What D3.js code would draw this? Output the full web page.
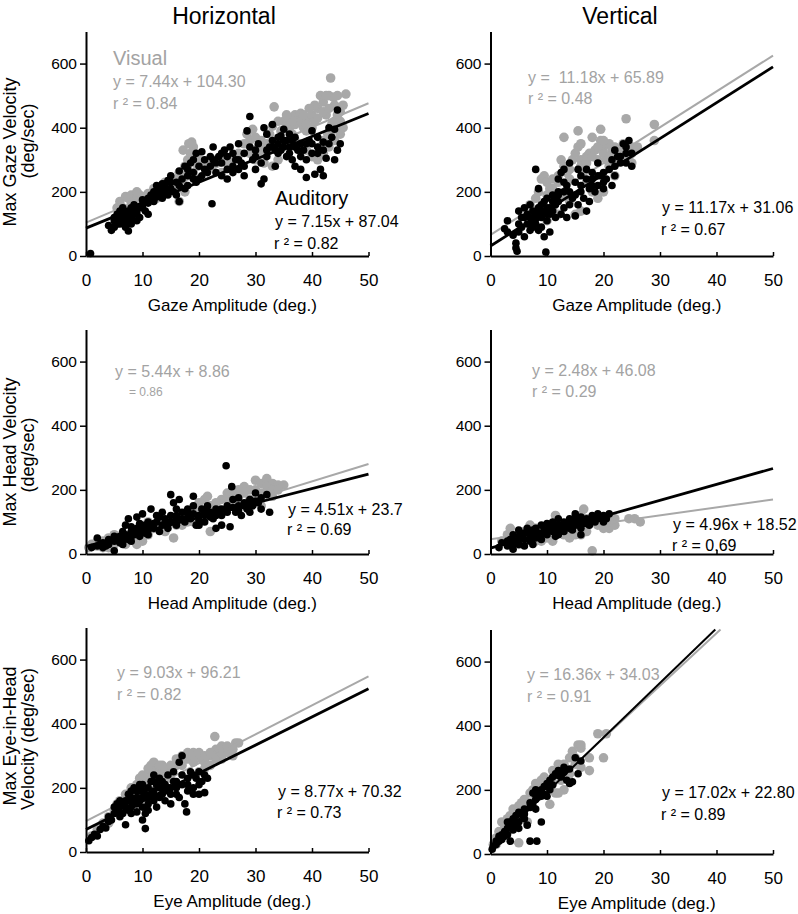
<!DOCTYPE html>
<html><head><meta charset="utf-8">
<script src="https://cdn.jsdelivr.net/npm/d3@7"></script>
<style>
body{margin:0;background:#fff}
svg{display:block}
text{font-family:"Liberation Sans",Arial,Helvetica,sans-serif;white-space:pre}
</style>
</head><body>
<svg id="chart" width="798" height="914"></svg>
<script>
// ---------------- DATA ----------------
const columnTitles = ["Horizontal", "Vertical"];
const xTickValues = [0, 10, 20, 30, 40, 50];
const yTickValues = [0, 200, 400, 600];
const xAxisLabels = ["Gaze Amplitude (deg.)", "Head Amplitude (deg.)", "Eye Amplitude (deg.)"];
const yAxisLabels = [["Max Gaze Velocity", "(deg/sec)"], ["Max Head Velocity", "(deg/sec)"], ["Max Eye-in-Head", "Velocity (deg/sec)"]];

// regression fits [slope, intercept] per panel: H-gaze, V-gaze, H-head, V-head, H-eye, V-eye
const visualFits = [[7.44, 104.30], [11.18, 65.89], [5.44, 8.86], [2.48, 46.08], [9.03, 96.21], [16.36, 34.03]];
const auditoryFits = [[7.15, 87.04], [11.17, 31.06], [4.51, 23.7], [4.96, 18.52], [8.77, 70.32], [17.02, 22.80]];
const visualEquations = ["y = 7.44x + 104.30", "y =  11.18x + 65.89", "y = 5.44x + 8.86", "y = 2.48x + 46.08", "y = 9.03x + 96.21", "y = 16.36x + 34.03"];
const visualR2 = ["r ² = 0.84", "r ² = 0.48", "= 0.86", "r ² = 0.29", "r ² = 0.82", "r ² = 0.91"];
const auditoryEquations = ["y = 7.15x + 87.04", "y = 11.17x + 31.06", "y = 4.51x + 23.7", "y = 4.96x + 18.52", "y = 8.77x + 70.32", "y = 17.02x + 22.80"];
const auditoryR2 = ["r ² = 0.82", "r ² = 0.67", "r ² = 0.69", "r ² = 0.69", "r ² = 0.73", "r ² = 0.89"];

// Horizontal gaze
const hGazeVisual = [[6,170],[7,185],[7.5,180],[8,190],[8.5,175],[9,185],[9.5,190],[10,180],[6.5,150],[8,160],
[11,195],[12,210],[13,200],[14,230],[15,220],[12.5,180],[14.5,200],
[16,240],[16.5,260],[17,250],[17.5,280],[18,300],[18.5,320],[18.7,355],[19,340],[19.5,310],[18,270],[17,230],[16.5,170],[17.5,200],[19,260],
[20,300],[21,290],[22,280],[23,300],[24,310],[25,290],[26,300],[27,320],[24,260],
[28.5,380],[29,360],[29.5,395],[30,370],[30.5,340],[31,320],[31.5,290],[32,330],[32.5,380],[33,405],[33.3,465],[33.5,350],[33,280],[34,300],
[35,420],[35.5,400],[36,430],[36.5,380],[37,440],[37.5,420],[38,445],[38.5,400],[39,390],[39.5,430],[40,440],[40.5,420],[41,460],[41.5,500],[42,480],[42.5,440],[43,500],[43.3,555],[43.8,495],[44,470],[44.5,440],[45,420],[45.5,400],[46,505],[45,380],[44,360],[43,340],[42,320],[41,300],[40,310],[39,330],[38,350],[37,360],[36,340],[44.8,460],[43.5,410],[42.8,380],
[5.5,150],[9,200],[10.5,185],[16,210],[17.2,330],[18.2,350],[19.8,280],[21.5,270],[28,350],[29,320],[30,300],[31,360],[34.5,390],[36,400],[37,410],[38,420],[39,410],[40,400],[41,430],[42,450],[43,460],[44,420],[45,450],[45.5,470],[44.5,500],[42.5,500],[40.5,470],[39.5,460],[38.5,440],[36.5,420],[35.5,440],[43.5,390],[42,360],[41.5,340],[34,420],[32,350]];
const hGazeAuditory = [[0.8,8],
[4,95],[4.5,80],[5,90],[5,110],[5.5,100],[5.5,130],[6,120],[6,140],[6,100],[6.5,110],[6.5,150],[7,120],[7,90],[7,135],[7.5,140],[7.5,110],[7.5,78],[8,125],[8,150],[8,100],[8.5,130],[8.5,160],[9,140],[9,110],[9.5,155],[9.5,120],[10,150],[10,175],[10.5,140],[11,130],[11,165],
[11.5,190],[12,200],[12,170],[12.5,220],[12.5,185],[13,210],[13,195],[13.5,225],[13.5,180],[14,215],[14,200],[14.5,235],[14.5,190],[15,210],[15,250],[15.5,200],[16,230],[16,190],[16.5,265],[16.5,170],[17,240],[17.5,210],[17.5,280],[18,250],[18,220],[18.5,290],[19,260],[19,240],[19.5,320],[19.5,230],[20,280],[20.5,325],[20.5,250],[21,300],[21.5,260],[22,280],[22.3,163],[22.5,340],[22.5,300],[23,260],[23.5,310],[24,290],[24,250],[24.5,330],[25,310],[25,240],[25.5,340],[26,280],[26,260],[26.5,300],[27,350],[27,270],[27.5,290],[28,320],[28,250],[28.5,390],[29,435],[29.5,300],[30,330],[30,270],[30.5,350],[31,225],[31,290],[31.5,400],[31.5,240],[32,380],[32,310],[32.5,340],[33,410],[33,360],[33.5,280],[33.5,330],[34,350],[34,320],[34.5,375],[35,395],[35,340],[35.5,310],[36,380],[36,340],[36.5,300],[37,370],[37,280],[37.5,330],[38,270],[38,350],[38.5,330],[39,245],[39,300],[40,320],[40,390],[40.5,255],[41,370],[41.5,270],[42,250],[42,355],[42.5,305],[43,400],[43.5,370],[44,395],[44.5,330],[44.5,455],[45,350],[44,300],[41,340],[39.5,360],[36.5,360],[35.5,360],[34.5,330],
[5,120],[6,110],[6.5,130],[7,105],[8,115],[9,130],[10,160],[11,180],[12.5,200],[13.5,205],[14,225],[15,230],[16.5,220],[18,270],[19,300],[20,240],[21,270],[22,310],[23,290],[24,320],[25,270],[26,320],[27,300],[28,280],[29,340],[30,310],[32,330],[33,340],[34,370],[35,360],[36,320],[37,340],[38,310],[39,350],[40,350],[41,320],[43,350],[42,330]];

// Vertical gaze
const vGazeVisual = [[7,160],[8,180],[8.5,200],[9,240],[9.5,250],[10,230],[10.5,210],[11,240],[11.5,190],[12,250],[12.5,300],[13,370],[13,280],[13.5,260],[14,240],[14.5,300],[15,320],[15.5,390],[15.5,340],[16,350],[16,300],[16.5,270],[17,310],[17.5,320],[18,370],[18.5,330],[19,300],[19.5,395],[19.5,360],[20,340],[20,320],[20.5,300],[21,350],[21,280],[21.5,330],[22,320],[22.5,300],[23,310],[23.5,350],[24,428],[24.5,310],[25,340],[25,290],[25.5,330],[26,340],[29,410],[29,360],[19,180],[18,200],[17,230],[16,140],[15,130],[14,170],[12,130],[11,150],[10,110],[13,190],[9,130],[22,250],[20,200],
[12,230],[14,270],[16,280],[17,290],[18,310],[19,340],[20,360],[21,310],[22,340],[23,330],[24,300],[25,320],[10,190],[11,210]];
const vGazeAuditory = [[2.5,85],[3,110],[3,75],[4,65],[4.5,40],[4.5,25],[4.7,15],[5,140],[5,100],[5.5,120],[5.5,90],[6,60],[6,150],[6.5,130],[6.5,100],[7,160],[7,120],[7,80],[7.5,140],[7.5,110],[8,270],[8,130],[8,100],[8.5,210],[8.5,150],[8.5,80],[9,120],[9,90],[9,140],[9.5,170],[9.5,60],[9.8,12],[10,180],[10,130],[10,110],[10.5,150],[10.5,75],[11,190],[11,140],[11.5,160],[11.5,120],[12,200],[12,240],[12,170],[12.5,260],[12.5,130],[13,270],[13,200],[13,150],[13.5,220],[13.5,120],[14,290],[14,160],[14.5,180],[15,230],[15,125],[15.5,270],[15.5,160],[16,200],[16,250],[16.5,180],[17,270],[17,140],[17.5,210],[17.5,170],[18,240],[18,260],[18.5,200],[19,290],[19,220],[19.5,250],[20,260],[20,210],[20.5,240],[21,270],[21.5,300],[21.5,220],[22,330],[22,250],[22.5,310],[23,310],[23.5,350],[24,340],[24,290],[24.5,360],[25,320],[25,280],
[6,120],[7,100],[8,115],[9,160],[10,150],[11,170],[12,190],[13,230],[14,200],[15,190],[16,220],[17,240],[18,220],[19,250],[20,230],[22,280],[23,290],[24,320],[5,75],[7.5,90],[8.5,125],[9.5,135],[10.5,130],[11.5,180]];

// Horizontal head
const hHeadVisual = [[0.5,20],[1,30],[2,25],[3,40],[4,50],[5,60],[5,30],[6,40],[7,55],[8,60],[9,50],[10,70],[11,60],[12,80],[13,90],[14,70],[15,100],[15.5,50],[16,90],[17,110],[18,120],[19,100],[20,160],[21,170],[21.5,180],[22,70],[22.5,140],[23,150],[24,170],[25,190],[26,200],[27,180],[28,210],[29,200],[30,230],[31,220],[32,235],[33,220],[34,215],[35,215],[29,170],[30,160],[31,150],[26,160],[24,130],[19,140],[17,90],[13,110],[11,100],[3,20],[7,30],[9,30],
[20,130],[22,150],[25,170],[27,200],[28,190],[30,200],[32,210],[33,200],[31,190],[33,180],[34,200],[26,180],[23,160],[18,100],[14,90],[10,40],[2,40],[4,20]];
const hHeadAuditory = [[1,20],[2,50],[2.5,30],[3,20],[3.5,25],[4,30],[5,10],[5,40],[6,35],[6,55],[6.5,30],[7,60],[7,90],[7.5,45],[7.5,110],[8,70],[8,40],[8.5,60],[9,80],[9,115],[9.5,55],[10,125],[10,70],[10.5,90],[11,60],[11,100],[11.5,140],[12,80],[12.5,100],[13,70],[13.5,90],[14,110],[14.5,80],[15,120],[15,185],[15.5,160],[16,140],[16,90],[16.5,170],[17,110],[17.5,100],[18,130],[18.5,110],[19,150],[19,180],[19.5,90],[20,120],[20.5,140],[21,100],[21.5,150],[22,130],[22.5,110],[23,140],[23,80],[24,120],[24,90],[24.8,275],[25,150],[25.5,85],[25.8,210],[26,170],[26.5,130],[27,150],[27.5,120],[28,160],[28.5,140],[29,170],[29.5,150],[30,190],[30.5,160],[31,140],[32,185],[32.5,130],[12.5,120],[13.5,130],[21,120],[18,140],[27,175],
[2,25],[3,35],[4,45],[5,55],[6,45],[6.5,70],[7,50],[8,55],[8,85],[9,65],[9.5,95],[10,80],[10.5,65],[11,85],[12,95],[13,115],[14,95],[15,100],[16,110],[17,130],[18,115],[19,125],[20,105],[21,135],[22,115],[23,120],[24,140],[25,130],[26,145],[27,135],[28,150],[29,155],[30,165],[31,175],[29,130],[20,90],[16,120],[11,75]];

// Vertical head
const vHeadVisual = [[2,40],[3,60],[3.5,80],[5,60],[6,70],[7,90],[8,80],[9,70],[10,60],[11,40],[11.5,120],[12,100],[13,60],[14,70],[15,90],[16,60],[16.5,140],[17,110],[18,100],[18,10],[19,90],[20,100],[21,110],[21,80],[22,90],[24.5,110],[25.5,110],[26.5,100],[10,50],[14,50],[5,30],[9,40],
[12,80],[15,60],[17,70],[20,80],[21,100],[22,110],[16,120],[8,40]];
const vHeadAuditory = [[1.5,20],[2,35],[3,25],[3.5,45],[4,15],[4,60],[4.5,40],[5,75],[5,30],[5.5,50],[6,65],[6,25],[6.5,80],[7,40],[7,60],[7.5,30],[7.5,75],[8,50],[8,80],[8.5,65],[9,90],[9,45],[9.5,75],[10,60],[10,95],[10.5,85],[11,70],[11,100],[11.5,55],[12,90],[12,110],[12.5,80],[13,100],[13,70],[13.5,95],[14,80],[14,110],[14.5,105],[15,90],[15,125],[15.5,100],[16,80],[16,115],[16.5,95],[17,110],[17.5,90],[18,120],[18.5,100],[19,125],[19.5,115],[20,120],[20.5,110],[21,125],[14.5,75],[16,60],[12,60],
[5,55],[6,45],[7,70],[8,65],[9,60],[10,75],[11,85],[12,75],[13,85],[14,95],[15,110],[16,100],[17,95],[18,105],[19,110],[20,100],[3,40],[4,30]];

// Horizontal eye
const hEyeVisual = [[1,50],[2,70],[3,90],[4,110],[5,130],[5.5,150],[6,160],[7,180],[8,190],[9,210],[9.5,230],[10,220],[11,240],[11.5,270],[12,260],[13,250],[13.5,270],[14,230],[15,250],[16,270],[17,300],[18,290],[19,310],[20,300],[20.5,290],[21,280],[22,300],[22.8,360],[23,320],[24,330],[25,310],[25.5,320],[26,300],[26.5,340],[27,340],[24,290],[22,270],[21,260],[19,280],[17,270],[15,230],[13,220],[11,200],[9,180],[7,150],[6,130],[4,90],[20,250],[23,290],[18,310],
[10,240],[11,260],[12,280],[13,270],[14,260],[15,270],[16,290],[17,280],[18,300],[19,300],[20,310],[21,300],[22,310],[23,300],[24,310],[25,330],[26,320],[8,200],[7,170],[6,150]];
const hEyeAuditory = [[0.5,35],[1,45],[1.5,55],[2,50],[2.5,70],[3,80],[3.5,75],[4,95],[4,110],[4.5,100],[5,120],[5.5,130],[5.5,150],[6,110],[6,140],[6.5,150],[7,85],[7,160],[7.5,130],[7.5,180],[8,140],[8,170],[8.5,200],[9,190],[9,125],[9.5,160],[9.5,210],[10,170],[10,100],[10.5,73],[10.5,120],[11,200],[11,150],[11.5,180],[12,220],[12,170],[12.5,140],[13,200],[13,230],[13.5,180],[14,210],[14,160],[14.5,240],[15,150],[15,200],[15.5,250],[16,220],[16.5,280],[16.5,170],[17,300],[17,210],[17.5,150],[17.8,125],[18,190],[18,230],[18.5,250],[19,200],[19,180],[19.5,230],[20,250],[20,180],[20.5,220],[21,240],[21,185],[21.5,230],[12,240],[10,190],[8,160],[14.5,200],[16,180],
[5,140],[6,160],[6.5,120],[7,140],[7.5,160],[8,190],[8.5,150],[9,170],[9.5,190],[10,210],[10.5,180],[11,170],[11.5,220],[12,190],[12.5,210],[13,170],[13.5,220],[14,190],[15,180],[15.5,220],[16,200],[17,240],[18,210],[19,240],[20,210],[11,130],[12,160],[8,120],[9,150],[10,140]];

// Vertical eye
const vEyeVisual = [[0.5,30],[1,50],[1.5,70],[2,100],[2.5,90],[3,110],[3.5,120],[4,140],[4.5,120],[5,150],[5,35],[5.5,160],[6,170],[6.5,100],[7,190],[7.5,200],[8,220],[8.5,180],[9,210],[9.5,240],[10,230],[10.5,155],[11,260],[11.5,190],[12,280],[12.5,270],[13,200],[13.5,240],[14,300],[14.5,320],[15,300],[15.5,340],[16,330],[16,270],[17.5,260],[17.5,300],[19,375],[20,300],[20.5,375],[12,190],
[3,70],[4,100],[6,140],[8,180],[9,230],[10,200],[11,220],[12.5,230],[13,280],[14,250],[15,280],[16,340],[2,60],[1,30],[7,160]];
const vEyeAuditory = [[0.3,15],[0.5,25],[1,40],[1,30],[1.5,55],[2,60],[2,45],[2.5,70],[3,80],[3,60],[3.5,100],[3.5,40],[4,90],[4,110],[4.5,120],[5,130],[5,80],[5.5,125],[6,140],[6,110],[6.5,90],[7,160],[7,40],[7.5,190],[7.5,150],[8,200],[8,170],[8.2,40],[8.5,190],[9,180],[9,100],[9.5,210],[10,220],[10.5,200],[11,240],[11.5,250],[12,260],[12.5,240],[13,270],[13.5,230],[14,220],[14.5,225],[15,300],[15.5,250],[16,290],[8,140],[10,180],
[1.5,40],[2.5,55],[4,75],[5,100],[6,125],[7,145],[8,185],[9,200],[9.5,185],[10.5,230],[11,215],[12,245],[13,255],[14,265],[4.5,95],[3,100]];

const visualSeries = [hGazeVisual, vGazeVisual, hHeadVisual, vHeadVisual, hEyeVisual, vEyeVisual];
const auditorySeries = [hGazeAuditory, vGazeAuditory, hHeadAuditory, vHeadAuditory, hEyeAuditory, vEyeAuditory];

// ---------------- LAYOUT ----------------
const GREY = "#a8a8a8";
const GREY_TEXT = "#a3a3a3";
const colX = [86, 490.5];
const rowY = [256, 554, 852];
const panelW = 282.5;
const panelH = 224.5; // 0..700
// annotation positions per panel: [visX, visEqY, visR2Y, audX, audEqY, audR2Y]
const annot = [
  [113, 87, 109, 275, 227, 249],
  [528, 83, 104, 662, 213, 235],
  [115, 377, 396, 288, 515, 535],
  [532, 376, 397, 673, 530, 551],
  [117, 678, 700, 278, 797, 818],
  [527, 680, 702, 662, 798, 820]
];
const yLabelCenters = [[152, 141], [452, 455], [736, 739]];

const svg = d3.select("#chart");

// column titles
columnTitles.forEach((t, i) => {
  svg.append("text").attr("x", i === 0 ? 224 : 620).attr("y", 24)
    .attr("text-anchor", "middle").attr("font-size", 23).attr("fill", "#000").text(t);
});

// y labels
yAxisLabels.forEach((lines, r) => {
  svg.append("text").attr("transform", `translate(15.5,${yLabelCenters[r][0]}) rotate(-90)`)
    .attr("text-anchor", "middle").attr("font-size", 18).text(lines[0]);
  svg.append("text").attr("transform", `translate(34,${yLabelCenters[r][1]}) rotate(-90)`)
    .attr("text-anchor", "middle").attr("font-size", 18).text(lines[1]);
});

for (let p = 0; p < 6; p++) {
  const r = Math.floor(p / 2), c = p % 2;
  const x0 = colX[c];
  const y0 = (p === 5) ? rowY[r] + 2 : rowY[r];
  const x = d3.scaleLinear().domain([0, 50]).range([x0, x0 + panelW]);
  const y = d3.scaleLinear().domain([0, 700]).range([y0, y0 - panelH]);
  const g = svg.append("g");

  // visual points
  g.append("g").selectAll("circle").data(visualSeries[p]).join("circle")
    .attr("cx", d => x(d[0])).attr("cy", d => y(d[1])).attr("r", 4.8).attr("fill", GREY);

  const fitLine = (fit) => {
    const [m, b] = fit;
    const xe = Math.min(50, (700 - b) / m);
    return [[0, b], [xe, m * xe + b]];
  };
  const line = d3.line().x(d => x(d[0])).y(d => y(d[1]));

  g.append("path").attr("d", line(fitLine(visualFits[p]))).attr("stroke", GREY)
    .attr("stroke-width", 2).attr("fill", "none");

  // auditory points
  g.append("g").selectAll("circle").data(auditorySeries[p]).join("circle")
    .attr("cx", d => x(d[0])).attr("cy", d => y(d[1])).attr("r", 3.8).attr("fill", "#000");

  g.append("path").attr("d", line(fitLine(auditoryFits[p]))).attr("stroke", "#000")
    .attr("stroke-width", p === 5 ? 2 : 2.8).attr("fill", "none");

  // axes
  const xAxis = d3.axisBottom(x).tickValues(xTickValues).tickSizeInner(-4).tickSizeOuter(0).tickPadding(18);
  const gx = g.append("g").attr("transform", `translate(0,${y0})`).call(xAxis);
  gx.select(".domain").attr("stroke-width", 2);
  gx.selectAll(".tick line").attr("stroke-width", 1.5);
  gx.selectAll("text").attr("font-size", 17).attr("fill", "#000");

  const yAxis = d3.axisLeft(y).tickValues(yTickValues).tickSizeInner(6).tickSizeOuter(0).tickPadding(3);
  const gy = g.append("g").attr("transform", `translate(${x0},0)`).call(yAxis);
  gy.select(".domain").attr("stroke-width", 2);
  gy.selectAll(".tick line").attr("stroke-width", 1.5);
  gy.selectAll("text").attr("font-size", 15.5).attr("fill", "#000");
  g.selectAll("g.tick text").attr("font-family", null);
  g.selectAll("g[font-family]").attr("font-family", null);
  g.selectAll(".domain").attr("stroke", "#000");

  // x label
  svg.append("text").attr("x", x0 + panelW / 2 + 5).attr("y", y0 + 55)
    .attr("text-anchor", "middle").attr("font-size", 17).text(xAxisLabels[r]);

  // annotations
  const a = annot[p];
  svg.append("text").attr("x", a[0]).attr("y", a[1]).attr("font-size", 16).attr("fill", GREY_TEXT).text(visualEquations[p]);
  svg.append("text").attr("x", p === 2 ? a[0] + 14 : a[0]).attr("y", a[2]).attr("font-size", p === 2 ? 12 : 16)
    .attr("fill", GREY_TEXT).text(visualR2[p]);
  svg.append("text").attr("x", a[3]).attr("y", a[4]).attr("font-size", 16).attr("fill", "#000").text(auditoryEquations[p]);
  svg.append("text").attr("x", a[3] - 1).attr("y", a[5]).attr("font-size", 16).attr("fill", "#000").text(auditoryR2[p]);
}

// series names in first panel
svg.append("text").attr("x", 113).attr("y", 65).attr("font-size", 20).attr("fill", GREY_TEXT).text("Visual");
svg.append("text").attr("x", 275).attr("y", 205).attr("font-size", 20).attr("fill", "#000").text("Auditory");
</script>
</body></html>
